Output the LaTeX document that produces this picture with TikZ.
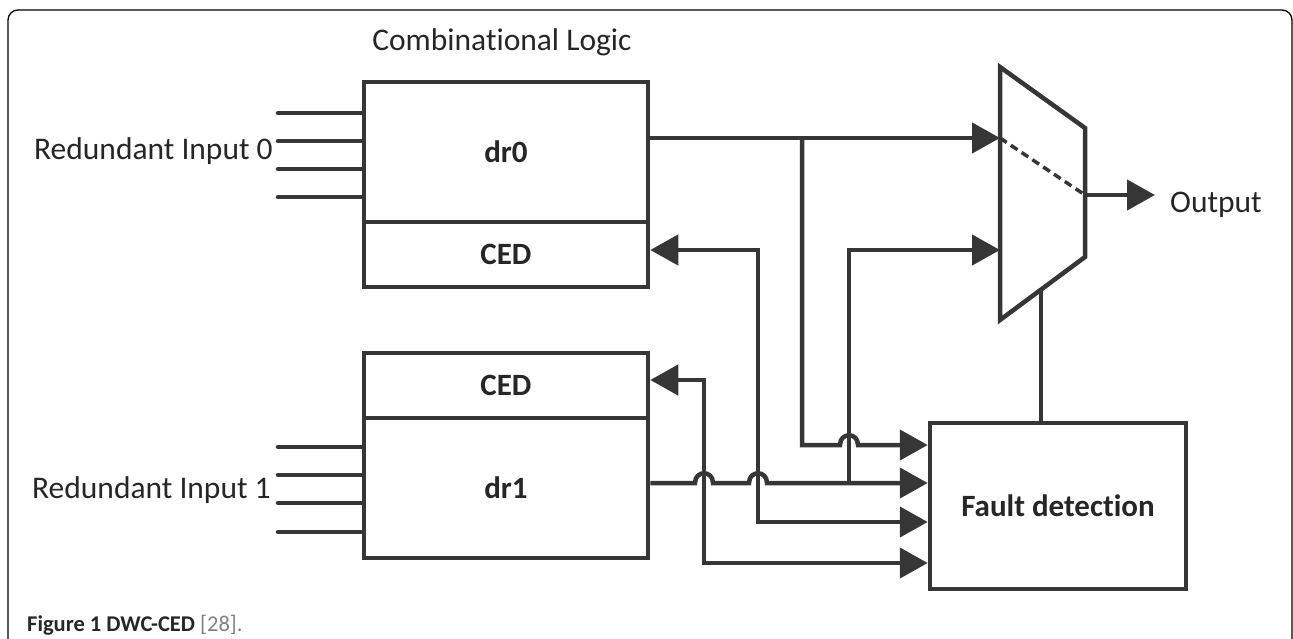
\documentclass[tikz,border=0pt]{standalone}
\usepackage{fontspec}
\setmainfont{Carlito}[Ligatures=NoCommon]
\usetikzlibrary{arrows.meta}
\definecolor{lc}{HTML}{363636}
\definecolor{tc}{HTML}{262626}
\begin{document}
\begin{tikzpicture}[x=1pt,y=-1pt,
  blk/.style={draw=lc, line width=4.5pt, minimum width=284pt, inner sep=0pt,
    font=\fontsize{31}{36}\selectfont\bfseries, text=tc},
  wire/.style={draw=lc, line width=4.5pt},
  tip/.tip={Triangle[length=28pt,width=30pt]},
  arr/.style={wire, -tip},
  arrb/.style={wire, tip-tip},
  lbl/.style={font=\fontsize{31.5}{36}\selectfont, text=tc, inner sep=0pt}]
\useasboundingbox (0,0) rectangle (1293,638);
% frame
\draw[line width=1.3pt, black, rounded corners=10pt] (8,660) -- (8,10) -- (1292,10) -- (1292,660);
% blocks
\node[blk, minimum height=140pt] (dr0) at (506,152) {dr0};
\node[blk, minimum height=65pt] (ced0) at (506,254.5) {CED};
\node[blk, minimum height=65pt] (ced1) at (506,385.5) {CED};
\node[blk, minimum height=140pt] (dr1) at (506,488) {dr1};
\node[blk, minimum width=256pt, minimum height=166pt] (fd) at (1058,506) {Fault detection};
% labels
\node[lbl, anchor=base] (cl) at (502,50) {Combinational Logic};
\node[lbl, anchor=base east] (ri0) at (273,159) {Redundant Input 0};
\node[lbl, anchor=base east] (ri1) at (271,498) {Redundant Input 1};
\node[lbl, anchor=base west] (out) at (1170,212) {Output};
\node[anchor=base west, inner sep=0pt, text=tc, font=\fontsize{22.5}{26}\selectfont] (cap) at (27,631)
  {\textbf{Figure 1 DWC-CED} \textcolor{gray}{[28].}};
% input stubs
\foreach \y in {113,141,169,197} {
  \coordinate (sa\y) at (278,\y);
  \draw[wire, line cap=round] (sa\y) -- (sa\y -| dr0.west);
}
\foreach \y in {447,475,503,532} {
  \coordinate (sb\y) at (278,\y);
  \draw[wire, line cap=round] (sb\y) -- (sb\y -| dr1.west);
}
% mux
\coordinate (mi0) at (1000,138);
\coordinate (mi1) at (1000,250);
\coordinate (mo) at (1085,195);
\coordinate (mc) at (1041,289.6);
\coordinate (oe) at (1155,195);
\coordinate (fi1) at (0,445);
\coordinate (fi2) at (0,483);
\coordinate (fi3) at (0,522);
\coordinate (fi4) at (0,563);
\coordinate (c0) at (0,250);
\coordinate (c1) at (0,380);
\coordinate (b0) at (802,138);
\coordinate (b1) at (849,483);
% wires
\draw[arr] (dr0.east |- mi0) -- (mi0);
\draw[arr] (b0) -- (802,445) -- (840,445) .. controls (840,432) and (858,432) .. (858,445) -- (fd.west |- fi1);
\draw[arr] (dr1.east |- fi2) -- (695,483) .. controls (695,470) and (713,470) .. (713,483)
   -- (749,483) .. controls (749,470) and (767,470) .. (767,483) -- (fd.west |- fi2);
\draw[arr] (b1) -- (849,250) -- (mi1);
\draw[arrb] (ced0.east |- c0) -- (758,250) -- (758,522) -- (fd.west |- fi3);
\draw[arrb] (ced1.east |- c1) -- (704,380) -- (704,563) -- (fd.west |- fi4);
% mux body
\draw[wire, fill=white] (1000,67) -- (1085,128) -- (1085,257) -- (1000,320) -- cycle;
\draw[draw=lc, line width=3.5pt, dash pattern=on 8pt off 5pt] (mi0) -- (mo);
\draw[arr] (mo) -- (oe);
\draw[wire] (mc) -- (mc |- fd.north);
\end{tikzpicture}
\end{document}
